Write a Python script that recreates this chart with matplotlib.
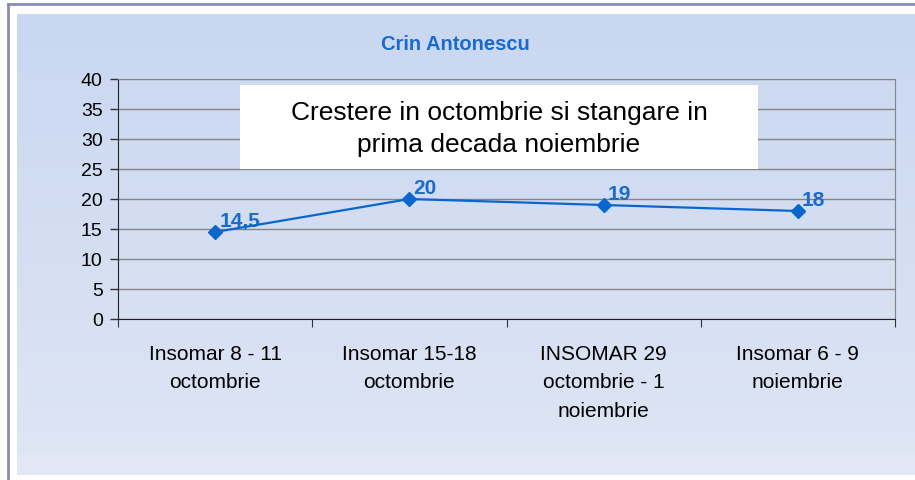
import numpy as np
import matplotlib.pyplot as plt
from matplotlib.patches import Rectangle
from matplotlib.lines import Line2D

plt.rcParams['font.family'] = ['Liberation Sans', 'DejaVu Sans']

# data
categories = ['Insomar 8 - 11\noctombrie', 'Insomar 15-18\noctombrie',
              'INSOMAR 29\noctombrie - 1\nnoiembrie', 'Insomar 6 - 9\nnoiembrie']
values = [14.5, 20, 19, 18]
value_labels = ['14,5', '20', '19', '18']
title = 'Crin Antonescu'
note = 'Crestere in octombrie si stangare in\nprima decada noiembrie'

W, H = 915, 481
fig = plt.figure(figsize=(W / 100, H / 100), dpi=100)
fig.patch.set_facecolor('white')

# purple frame lines (left and top)
fig.add_artist(Line2D([7.5 / W, 7.5 / W], [0, 1 - 5 / H], transform=fig.transFigure,
                      color='#8a8ab8', lw=2))
fig.add_artist(Line2D([7.5 / W, 1], [1 - 5 / H, 1 - 5 / H], transform=fig.transFigure,
                      color='#8a8ab8', lw=2))

# blue gradient chart area
bg = fig.add_axes([17 / W, 1 - 476 / H, 898 / W, 461 / H])
top_c = np.array([0xc9, 0xd7, 0xf1]) / 255
bot_c = np.array([0xdf, 0xe6, 0xf4]) / 255
t = np.linspace(0, 1, 200)[:, None]
grad = top_c[None, :] * (1 - t) + bot_c[None, :] * t
grad = np.repeat(grad[:, None, :], 2, axis=1)
bg.imshow(grad, aspect='auto', extent=[0, 1, 0, 1])
bg.axhspan(0, 21 / 461, color='#e1e7f5')
bg.set_xlim(0, 1)
bg.set_ylim(0, 1)
bg.axis('off')

# plot area
ax = fig.add_axes([118 / W, 1 - 320 / H, 777 / W, 240 / H])
ax.patch.set_alpha(0)
x = np.arange(len(values)) + 0.5
ax.plot(x, values, color='#0a66cc', lw=1.6, marker='D', ms=7, zorder=5)
for xi, v, lab in zip(x, values, value_labels):
    ax.annotate(lab, (xi, v), xytext=(3, 4), textcoords='offset points',
                fontsize=15, fontweight='bold', color='#1a6bcc', ha='left', va='baseline')

ax.set_xlim(0, 4)
ax.set_ylim(0, 40)
ax.set_yticks(range(0, 41, 5))
ax.yaxis.grid(True, color='#858585', lw=1)
ax.set_axisbelow(True)
ax.tick_params(axis='y', labelsize=14, length=6, width=1, color='#333333', pad=5)
ax.set_xticks(range(0, 5))
ax.set_xticklabels([])
ax.tick_params(axis='x', which='major', length=6, direction='out', color='#333333')
ax.set_xticks(x, minor=True)
ax.set_xticklabels(categories, minor=True, fontsize=15, linespacing=1.62)
ax.tick_params(axis='x', which='minor', length=0, pad=18)
for s in ['top', 'right']:
    ax.spines[s].set_color('#858585')
for s in ['left', 'bottom']:
    ax.spines[s].set_color('#222222')

# note box
ax.add_patch(Rectangle((122 / 777, 150 / 240), 518 / 777, 84 / 240, transform=ax.transAxes,
                       facecolor='white', edgecolor='none', zorder=3))
ax.text(381 / 777, 191 / 240, note, transform=ax.transAxes, ha='center', va='center',
        fontsize=19, linespacing=1.45, zorder=4)

fig.text(455 / W, 1 - 45 / H, title, ha='center', va='center', fontsize=14.5,
         fontweight='bold', color='#1a6bcc')

fig.savefig('out.png', dpi=100)
